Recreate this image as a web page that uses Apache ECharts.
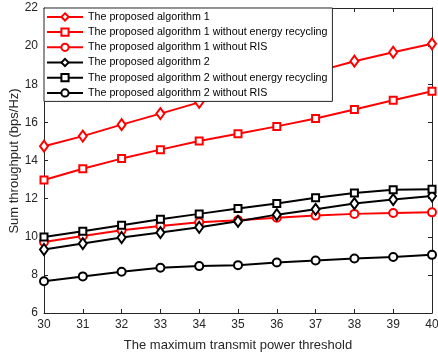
<!DOCTYPE html>
<html><head><meta charset="utf-8">
<script src="https://cdn.jsdelivr.net/npm/echarts@6/dist/echarts.min.js"></script>
<style>html,body{margin:0;padding:0;background:#fff}#c{width:438px;height:353px}</style>
</head><body><div id="c"></div>
<script>
var categories = [30,31,32,33,34,35,36,37,38,39,40];
var alg1 = [14.75,15.28,15.88,16.46,17.05,17.6,18.1,18.65,19.21,19.68,20.12];
var alg1NoER = [12.98,13.57,14.1,14.57,15.02,15.4,15.79,16.2,16.68,17.16,17.63];
var alg1NoRIS = [9.73,10.04,10.34,10.57,10.76,10.86,11.0,11.11,11.2,11.25,11.28];
var alg2 = [9.33,9.64,9.96,10.22,10.5,10.81,11.16,11.44,11.74,11.95,12.14];
var alg2NoER = [9.99,10.29,10.6,10.92,11.2,11.48,11.75,12.05,12.3,12.47,12.49];
var alg2NoRIS = [7.67,7.92,8.16,8.37,8.46,8.51,8.65,8.75,8.86,8.94,9.05];
var names = ['The proposed algorithm 1','The proposed algorithm 1 without energy recycling','The proposed algorithm 1 without RIS','The proposed algorithm 2','The proposed algorithm 2 without energy recycling','The proposed algorithm 2 without RIS'];
var xTitle = 'The maximum transmit power threshold';
var yTitle = 'Sum throughput (bps/Hz)';
var seriesData = [alg1, alg1NoER, alg1NoRIS, alg2, alg2NoER, alg2NoRIS];
var colors = ['#ff0000','#ff0000','#ff0000','#000000','#000000','#000000'];
var symbols = ['emptyDiamond','emptyRect','emptyCircle','emptyDiamond','emptyRect','emptyCircle'];
var sizes = [[8,11],7,8,[8,11],7,8];

var font = 'Liberation Sans, Arial, Helvetica, sans-serif';
var chart = echarts.init(document.getElementById('c'));
var series = seriesData.map(function(d,i){
  return {
    name: names[i], type:'line', data: categories.map(function(x,j){return [x,d[j]];}),
    symbol: symbols[i], symbolSize: sizes[i], color: colors[i],
    lineStyle:{width:2,color:colors[i]}, itemStyle:{color:colors[i],borderColor:colors[i],borderWidth:2},
    showAllSymbol:true, animation:false, z: 2+i
  };
});
var axisCommon = {
  axisLine:{show:true,onZero:false,lineStyle:{color:'#262626',width:1}},
  axisTick:{show:true,inside:true,length:4,lineStyle:{color:'#262626'}},
  splitLine:{show:false}
};
chart.setOption({
  animation:false,
  textStyle:{fontFamily:font},
  grid:{left:44,right:6,top:8,bottom:40,containLabel:false,outerBoundsMode:'none'},
  legend:{
    orient:'vertical', left:44, top:8, data:names,
    backgroundColor:'#fff', borderColor:'#262626', borderWidth:1, borderRadius:0,
    padding:[3.4,5,3,2], itemGap:4.2, itemWidth:36, itemHeight:9,
    textStyle:{fontSize:10.7,color:'#000',fontFamily:font},
    z:10
  },
  graphic:[{
    type:'text', x:14, y:161, rotation:Math.PI/2,
    style:{text:yTitle, fontSize:13, fontFamily:font, fill:'#262626', align:'center', verticalAlign:'middle'}
  }],
  xAxis:[
    Object.assign({type:'value',min:30,max:40,interval:1,position:'bottom',
      name:xTitle,nameLocation:'middle',nameGap:26,
      nameTextStyle:{fontSize:13,color:'#262626',fontFamily:font},
      axisLabel:{fontSize:12,color:'#262626',margin:6,fontFamily:font}},axisCommon),
    Object.assign({type:'value',min:30,max:40,interval:1,position:'top',axisLabel:{show:false}},axisCommon)
  ],
  yAxis:[
    Object.assign({type:'value',min:6,max:22,interval:2,position:'left',
      axisLabel:{fontSize:12,color:'#262626',margin:6,fontFamily:font}},axisCommon),
    Object.assign({type:'value',min:6,max:22,interval:2,position:'right',axisLabel:{show:false}},axisCommon)
  ],
  series: series
});
</script></body></html>
